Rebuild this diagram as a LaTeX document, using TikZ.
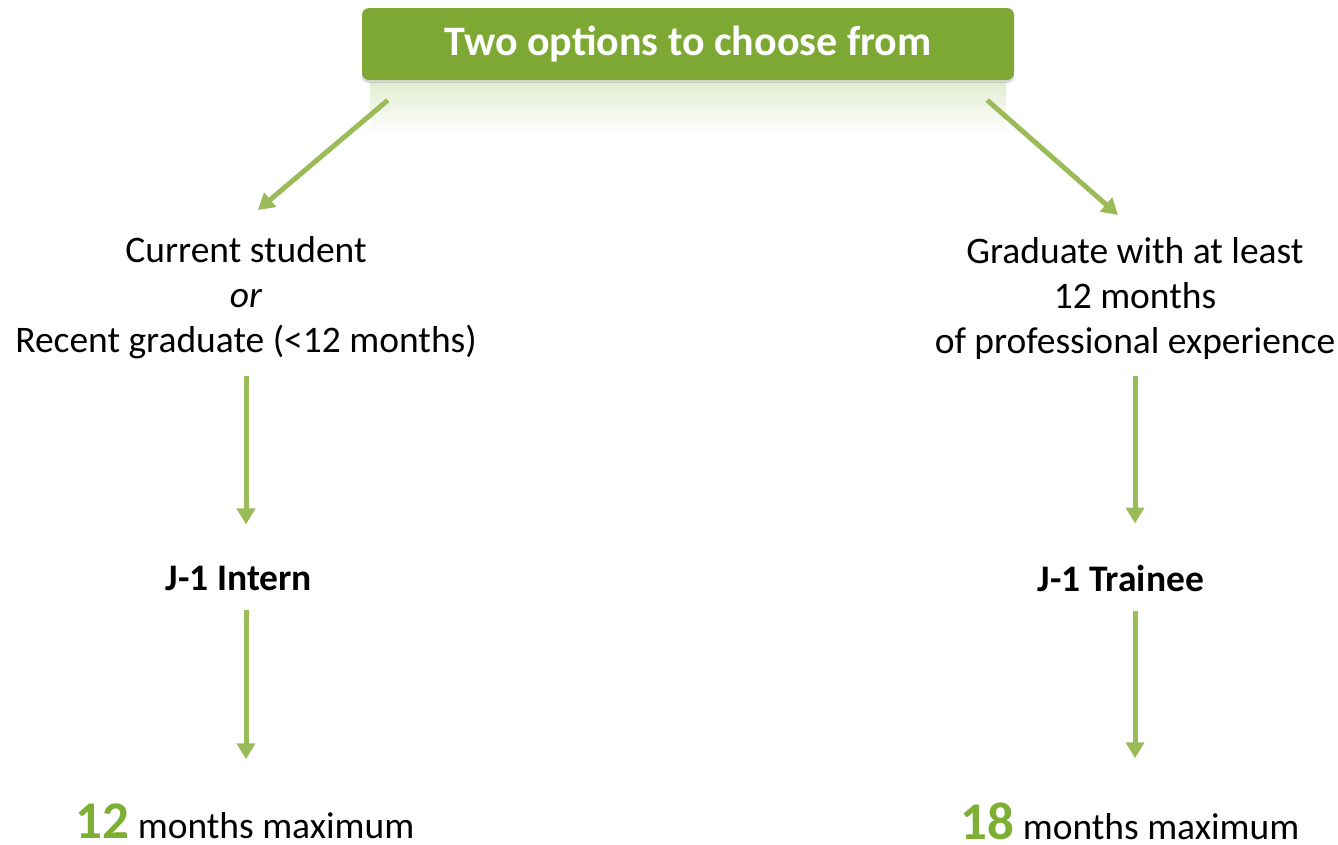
\documentclass[tikz,border=0pt]{standalone}
\usepackage{fontspec}
\setmainfont{Carlito}
\usetikzlibrary{arrows.meta,shadows}
\definecolor{boxgreen}{HTML}{7DA834}
\definecolor{arrowgreen}{HTML}{9BBB59}
\definecolor{numgreen}{HTML}{7DAF35}

\begin{document}
\begin{tikzpicture}[x=1pt,y=-1pt,
  titlebox/.style={fill=boxgreen, rounded corners=7pt, minimum width=652pt,
    minimum height=72pt, text=white, font=\fontsize{42}{48}\selectfont\bfseries,
    drop shadow={shadow xshift=0pt, shadow yshift=-3pt, opacity=0.3}},
  label/.style={align=center, font=\fontsize{37.5}{45}\selectfont, inner sep=0pt},
  flow/.style={draw=arrowgreen, line width=5pt, -{Triangle[width=18pt,length=16pt]}},
]

\useasboundingbox (0,0) rectangle (1338,844);

%------------------------------------------------
% Title
%------------------------------------------------

\shade[top color=boxgreen!22, bottom color=white] (370,82) rectangle (1006,135);
\node[titlebox] (title) at (688,44) {Two options to choose from};

%------------------------------------------------
% Left column
%------------------------------------------------

\node[label] (student) at (246,298) {Current student\\ \textit{or}\\ Recent graduate (<12 months)};
\node[label, font=\fontsize{37.5}{45}\selectfont\bfseries] (intern) at (239,578) {J-1 Intern};
\node[label] (leftmax) at (245,821) {{\fontsize{53}{56}\selectfont\bfseries\color{numgreen}12} months maximum};

%------------------------------------------------
% Right column
%------------------------------------------------

\node[label] (graduate) at (1135,298) {Graduate with at least\\ 12 months\\ of professional experience};
\node[label, font=\fontsize{37.5}{45}\selectfont\bfseries] (trainee) at (1121,578) {J-1 Trainee};
\node[label] (rightmax) at (1130,821) {{\fontsize{53}{56}\selectfont\bfseries\color{numgreen}18} months maximum};

%------------------------------------------------
% Arrows
%------------------------------------------------

\coordinate (ltip) at (258,210);
\coordinate (rtip) at (1118,215);
\draw[flow] ([shift={(26,20)}]title.south west) -- (ltip);
\draw[flow] ([shift={(-27,20)}]title.south east) -- (rtip);

\draw[flow, shorten <=17pt, shorten >=41pt] (student.south) -- (student.south |- intern.north);
\draw[flow, shorten <=19pt, shorten >=44pt] (intern.south -| student.south) -- (student.south |- leftmax.north);
\draw[flow, shorten <=17pt, shorten >=41pt] (graduate.south) -- (graduate.south |- trainee.north);
\draw[flow, shorten <=19pt, shorten >=44pt] (trainee.south -| graduate.south) -- (graduate.south |- rightmax.north);

\end{tikzpicture}
\end{document}
